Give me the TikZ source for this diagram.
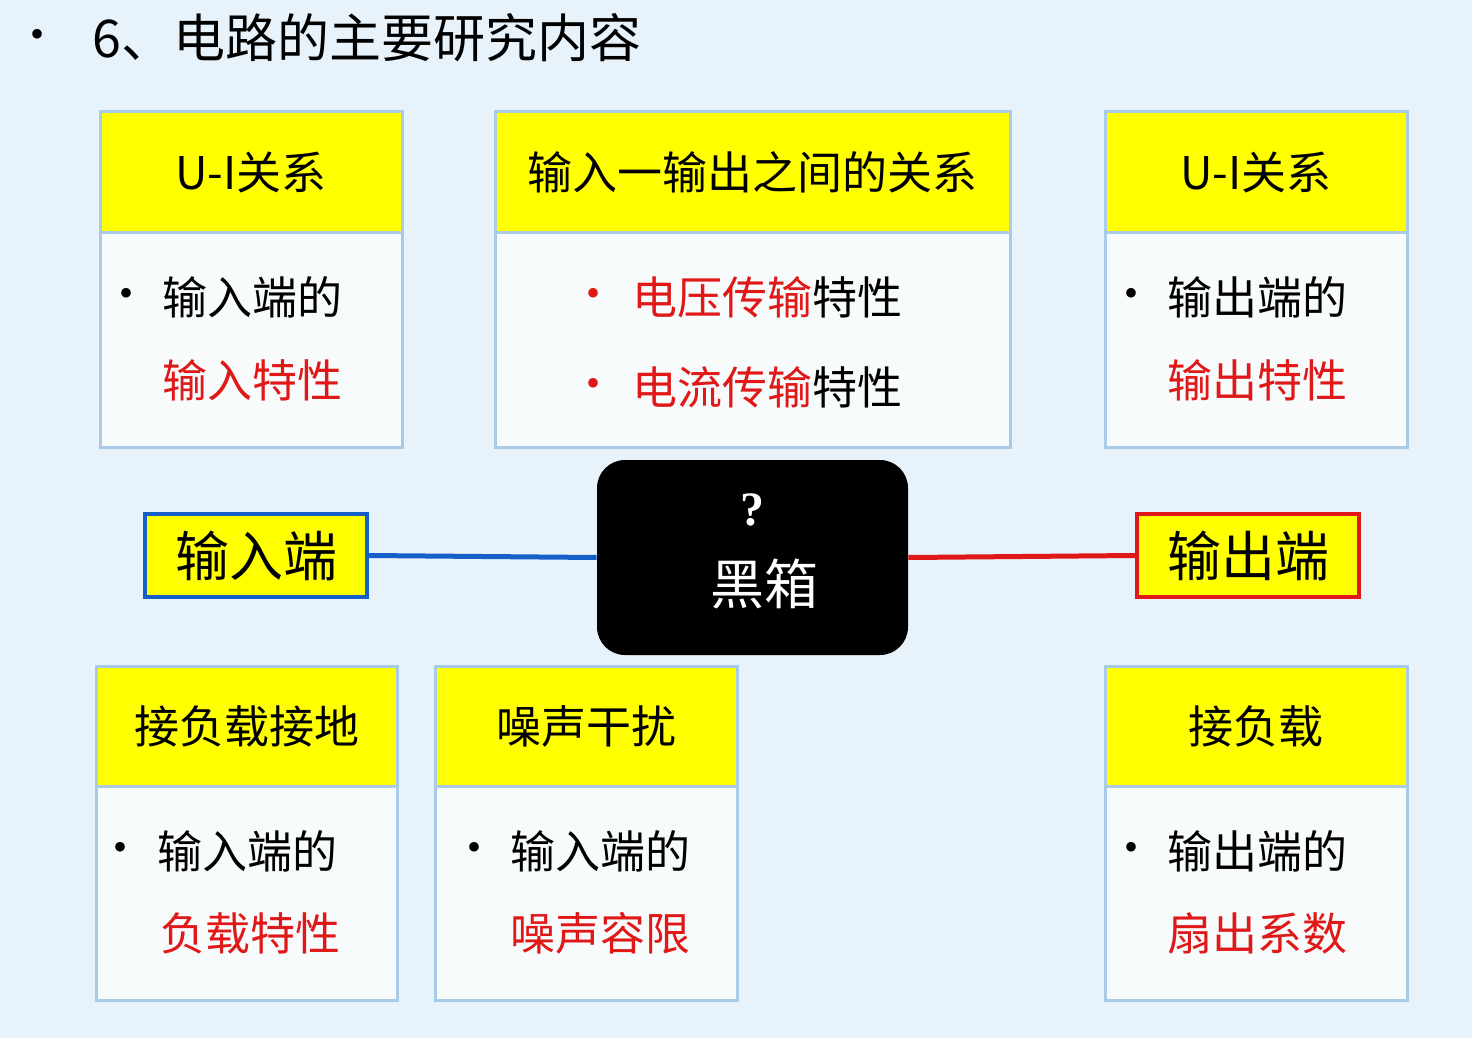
\documentclass[tikz,border=0pt]{standalone}
\usepackage{fontspec}
\setmainfont{Liberation Serif}
\newfontfamily\cjk{Noto Sans CJK SC}
\definecolor{bg}{HTML}{E8F2FA}
\definecolor{bord}{HTML}{A9CBEA}
\definecolor{ylw}{HTML}{FFFF00}
\definecolor{bodyc}{HTML}{F8FBFC}
\definecolor{rd}{HTML}{E01818}
\definecolor{bl}{HTML}{1560C8}
\begin{document}
\begin{tikzpicture}[x=0.5pt,y=-0.5pt,
 hdr/.style={draw=bord,line width=1.5pt,fill=ylw,inner sep=0pt,font=\cjk\fontsize{22.5}{26}\selectfont},
 bdy/.style={draw=bord,line width=1.5pt,fill=bodyc,inner sep=0pt},
 txt/.style={font=\cjk\fontsize{22.5}{26}\selectfont,anchor=west,inner sep=0pt},
 dot/.style={font=\fontsize{20}{24}\selectfont,inner sep=0pt},
 port/.style={line width=2pt,fill=ylw,font=\cjk\fontsize{27}{32}\selectfont,inner sep=0pt}]
\fill[bg] (0,0) rectangle (1472,1038);
\node[dot] (t0) at (38,38) {•};
\node[font=\cjk\fontsize{26}{30}\selectfont,anchor=west,inner sep=0pt] (title) at (92,38) {6、电路的主要研究内容};
% top boxes
\node[bdy,minimum width=151pt,minimum height=107.5pt] (b1) at (251,339.5) {};
\node[hdr,minimum width=151pt,minimum height=60pt] (h1) at (251,172) {U-I关系};
\node[dot] (d1) at (126,297) {•};
\node[txt] (t1a) at (162,297) {输入端的};
\node[txt,text=rd] (t1b) at (162,380) {输入特性};
\node[bdy,minimum width=257.5pt,minimum height=107.5pt] (b2) at (752.5,339.5) {};
\node[hdr,minimum width=257.5pt,minimum height=60pt] (h2) at (752.5,172) {输入一输出之间的关系};
\node[dot,text=rd] (d2a) at (593,297) {•};
\node[txt] (t2a) at (632,297) {\textcolor{rd}{电压传输}特性};
\node[dot,text=rd] (d2b) at (593,387) {•};
\node[txt] (t2b) at (632,387) {\textcolor{rd}{电流传输}特性};
\node[bdy,minimum width=151pt,minimum height=107.5pt] (b3) at (1256,339.5) {};
\node[hdr,minimum width=151pt,minimum height=60pt] (h3) at (1256,172) {U-I关系};
\node[dot] (d3) at (1131,297) {•};
\node[txt] (t3a) at (1167,297) {输出端的};
\node[txt,text=rd] (t3b) at (1167,380) {输出特性};
% middle
\node[port,draw=bl,minimum width=111pt,minimum height=41.5pt] (in) at (256,555.5) {输入端};
\node[port,draw=rd,minimum width=111pt,minimum height=41.5pt] (out) at (1248,555.5) {输出端};
\node[fill=black,rounded corners=14pt,minimum width=155.5pt,minimum height=97.5pt,inner sep=0pt] (bb) at (752.5,557.5) {};
\node[text=white,font=\bfseries\fontsize{24}{28}\selectfont,inner sep=0pt] (q) at (752,510) {?};
\node[text=white,font=\cjk\fontsize{27}{32}\selectfont,inner sep=0pt] (hx) at (764,584) {黑箱};
\draw[bl,line width=2.5pt] (in.east) -- (bb.west);
\draw[rd,line width=2.5pt] (bb.east) -- (out.west);
% bottom boxes
\node[bdy,minimum width=150.5pt,minimum height=107pt] (b4) at (246.5,893) {};
\node[hdr,minimum width=150.5pt,minimum height=60pt] (h4) at (246.5,726) {接负载接地};
\node[dot] (d4) at (121,851) {•};
\node[txt] (t4a) at (157,851) {输入端的};
\node[txt,text=rd] (t4b) at (160,933) {负载特性};
\node[bdy,minimum width=151pt,minimum height=107pt] (b5) at (586,893) {};
\node[hdr,minimum width=151pt,minimum height=60pt] (h5) at (586,726) {噪声干扰};
\node[dot] (d5) at (474,851) {•};
\node[txt] (t5a) at (510,851) {输入端的};
\node[txt,text=rd] (t5b) at (510,933) {噪声容限};
\node[bdy,minimum width=151pt,minimum height=107pt] (b6) at (1256,893) {};
\node[hdr,minimum width=151pt,minimum height=60pt] (h6) at (1256,726) {接负载};
\node[dot] (d6) at (1131,851) {•};
\node[txt] (t6a) at (1167,851) {输出端的};
\node[txt,text=rd] (t6b) at (1167,933) {扇出系数};
\end{tikzpicture}
\end{document}
